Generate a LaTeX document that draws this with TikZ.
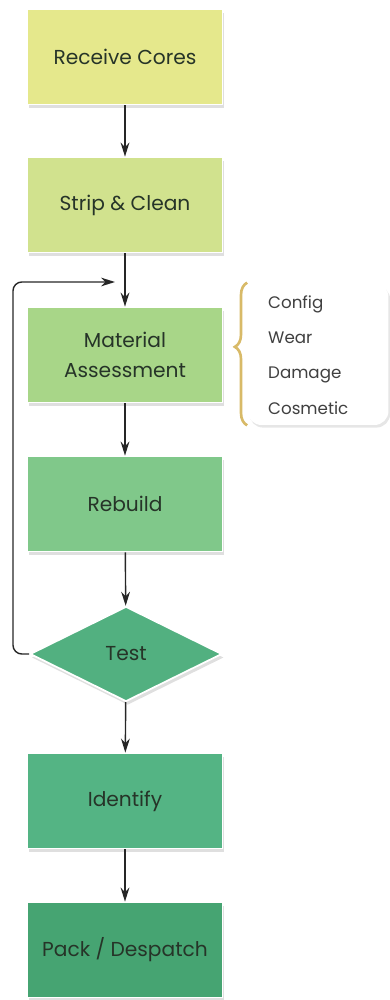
\documentclass[tikz,border=0pt]{standalone}
\usepackage{fontspec}
\setmainfont{Poppins}
\usepackage{tikz}
\usetikzlibrary{shapes.geometric, arrows.meta, positioning, shadows, calc, decorations.pathreplacing}
\definecolor{receivecol}{RGB}{229,232,140}
\definecolor{stripcol}{RGB}{209,226,142}
\definecolor{assesscol}{RGB}{168,214,136}
\definecolor{rebuildcol}{RGB}{128,200,138}
\definecolor{testcol}{RGB}{82,176,128}
\definecolor{identifycol}{RGB}{84,180,132}
\definecolor{packcol}{RGB}{70,164,114}
\definecolor{labeltext}{RGB}{38,52,40}
\definecolor{bracegold}{RGB}{216,186,104}

\begin{document}
\begin{tikzpicture}[x=0.02cm,y=-0.02cm,
    box/.style={rectangle,draw=white,line width=1pt,minimum width=3.9cm,minimum height=1.9cm,
        font=\fontsize{11.5}{17}\selectfont,text=labeltext,align=center,
        drop shadow={opacity=0.25,shadow xshift=1pt,shadow yshift=-2pt}},
    arrow/.style={-{Stealth[length=8pt,width=5pt]},line width=0.8pt,black!85}]
    \useasboundingbox (0,0) rectangle (389,1000);

    % Passi del processo
    \node[box,fill=receivecol] (receive) at (125,57) {Receive Cores};
    \node[box,fill=stripcol] (strip) at (125,205) {Strip \& Clean};
    \node[box,fill=assesscol] (assess) at (125,355) {Material\\Assessment};
    \node[box,fill=rebuildcol] (rebuild) at (125,504) {Rebuild};
    \node[diamond,draw=white,line width=1pt,fill=testcol,minimum width=3.84cm,minimum height=1.9cm,
        inner sep=0pt,font=\fontsize{11.5}{17}\selectfont,text=labeltext,
        drop shadow={opacity=0.25,shadow xshift=1pt,shadow yshift=-2pt}] (test) at (126,654) {Test};
    \node[box,fill=identifycol] (identify) at (125,801) {Identify};
    \node[box,fill=packcol] (pack) at (125,950) {Pack / Despatch};

    % Frecce
    \draw[arrow] (receive) -- (strip);
    \draw[arrow] (strip) -- (assess);
    \draw[arrow] (assess) -- (rebuild);
    \draw[arrow] (rebuild) -- (test);
    \draw[arrow] (test) -- (identify);
    \draw[arrow] (identify) -- (pack);

    % Ritorno dal test
    \coordinate (back) at (115,282);
    \draw[arrow,rounded corners=5pt] (test.west) -- (13,654) |- (back);

    % Controlli della valutazione
    \node[rectangle,rounded corners=8pt,fill=white,minimum width=2.82cm,minimum height=2.84cm,
        drop shadow={opacity=0.2,shadow xshift=1pt,shadow yshift=-1.5pt}] (checks) at (318,354) {};
    \node[font=\fontsize{9.5}{20}\selectfont,text=black!75,align=left,anchor=west] (checklist) at (262,355)
        {Config\\Wear\\Damage\\Cosmetic};
    \draw[bracegold,line width=1.5pt,decorate,decoration={brace,amplitude=7pt,aspect=0.55}]
        (checks.south west) -- (checks.north west);
\end{tikzpicture}
\end{document}
